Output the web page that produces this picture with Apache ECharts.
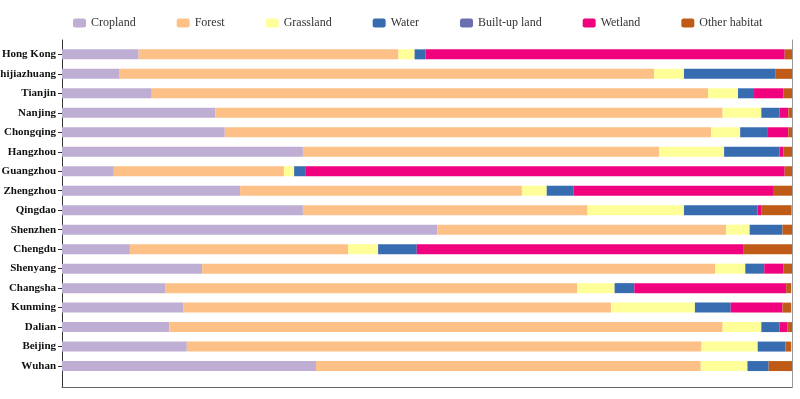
<!DOCTYPE html>
<html>
<head>
<meta charset="utf-8">
<script src="https://cdn.jsdelivr.net/npm/echarts@6/dist/echarts.min.js"></script>
<style>
  html, body { margin: 0; padding: 0; background: #fff; }
  #main { width: 800px; height: 399px; }
</style>
</head>
<body>
<div id="main"></div>
<script>
// rows, top to bottom
var cities = ['Hong Kong', 'Shijiazhuang', 'Tianjin', 'Nanjing', 'Chongqing', 'Hangzhou',
  'Guangzhou', 'Zhengzhou', 'Qingdao', 'Shenzhen', 'Chengdu', 'Shenyang',
  'Changsha', 'Kunming', 'Dalian', 'Beijing', 'Wuhan'];

var names = ['Cropland', 'Forest', 'Grassland', 'Water', 'Built-up land', 'Wetland', 'Other habitat'];
var colors = ['#beaed4', '#fdc086', '#ffff99', '#386cb0', '#6b6fb0', '#f0027f', '#bf5b17'];

// shares in percent, one value per city
var cropland  = [10.5, 7.9, 12.3, 21.0, 22.3, 33.0, 7.1, 24.4, 33.0, 51.4, 9.3, 19.2, 14.2, 16.6, 14.7, 17.1, 34.8];
var forest    = [35.6, 73.2, 76.2, 69.5, 66.6, 48.8, 23.3, 38.6, 39.0, 39.6, 29.9, 70.3, 56.4, 58.6, 75.8, 70.5, 52.7];
var grassland = [2.2, 4.1, 4.1, 5.3, 4.0, 8.9, 1.4, 3.4, 13.2, 3.2, 4.1, 4.1, 5.1, 11.5, 5.3, 7.7, 6.4];
var water     = [1.5, 12.5, 2.2, 2.5, 3.7, 7.6, 1.6, 3.7, 10.1, 4.5, 5.3, 2.6, 2.7, 4.9, 2.5, 3.8, 2.9];
var builtup   = [0, 0, 0, 0, 0, 0, 0, 0, 0, 0, 0, 0, 0, 0, 0, 0, 0];
var wetland   = [49.2, 0, 4.0, 1.2, 2.9, 0.5, 65.6, 27.3, 0.55, 0, 44.7, 2.6, 20.8, 7.1, 1.1, 0, 0];
var other     = [1.0, 2.3, 1.2, 0.6, 0.6, 1.2, 1.0, 2.6, 4.1, 1.4, 6.7, 1.2, 0.7, 1.2, 0.7, 0.8, 3.2];

var values = [cropland, forest, grassland, water, builtup, wetland, other];

var chart = echarts.init(document.getElementById('main'));

var series = names.map(function (n, i) {
  return {
    name: n,
    type: 'bar',
    stack: 'total',
    barWidth: 10,
    xAxisIndex: 0,
    yAxisIndex: 0,
    itemStyle: { color: colors[i] },
    data: values[i]
  };
});

var option = {
  animation: false,
  textStyle: { fontFamily: 'Liberation Serif' },
  legend: {
    data: names,
    top: 12,
    left: 68,
    itemWidth: 13,
    itemHeight: 9,
    itemGap: 41,
    textStyle: { fontFamily: 'Liberation Serif', fontSize: 12, color: '#333' }
  },
  grid: [
    { left: 62, right: 8, top: 44.6, bottom: 23.2, outerBoundsMode: 'none' },
    { left: 62, right: 8, top: 40, bottom: 12, outerBoundsMode: 'none' }
  ],
  xAxis: [
    {
      type: 'value', gridIndex: 0, min: 0, max: 100,
      show: false
    },
    {
      type: 'value', gridIndex: 1, min: 0, max: 1,
      axisLine: { show: true, lineStyle: { color: '#666' } },
      axisTick: { show: false }, axisLabel: { show: false }, splitLine: { show: false }
    }
  ],
  yAxis: [
    {
      type: 'category', gridIndex: 0, inverse: true,
      data: cities,
      axisLine: { show: false },
      axisTick: { show: true, alignWithLabel: true, length: 4, lineStyle: { color: '#333' } },
      axisLabel: { fontFamily: 'Liberation Serif', fontWeight: 'bold', fontSize: 11, color: '#111', margin: 6 }
    },
    {
      type: 'value', gridIndex: 1, min: 0, max: 1,
      axisLine: { show: true, lineStyle: { color: '#333' } },
      axisTick: { show: false }, axisLabel: { show: false }, splitLine: { show: false }
    },
    {
      type: 'value', gridIndex: 1, min: 0, max: 1, position: 'right',
      axisLine: { show: true, lineStyle: { color: '#999' } },
      axisTick: { show: false }, axisLabel: { show: false }, splitLine: { show: false }
    }
  ],
  series: series
};

chart.setOption(option);
</script>
</body>
</html>
